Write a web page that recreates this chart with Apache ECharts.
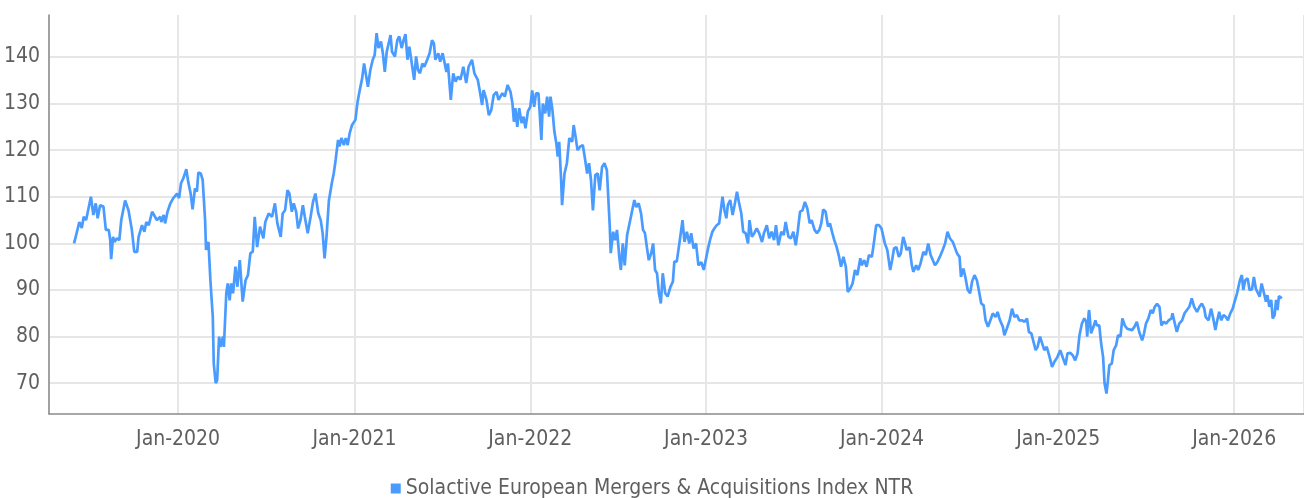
<!DOCTYPE html>
<html lang="en">
  <head>
    <meta charset="UTF-8" />
    <title>Solactive European Mergers &amp; Acquisitions Index NTR</title>
    <script src="https://cdn.jsdelivr.net/npm/echarts@6/dist/echarts.min.js"></script>
    <style>
      html, body { margin: 0; padding: 0; background: #fff; }
      #main { width: 1304px; height: 498px; }
    </style>
  </head>
  <body>
    <div id="main"></div>

    <script>
      const seriesName = 'Solactive European Mergers & Acquisitions Index NTR';

      // x range of the plot and the y ticks
      const xRange = ['2019-04-08', '2026-05-26'];
      const yRange = [63.4, 149];

      const dates = [
        // 2019
        '2019-05-30', '2019-06-05', '2019-06-10', '2019-06-15', '2019-06-19', '2019-06-24', '2019-06-29',
        '2019-07-04', '2019-07-09', '2019-07-14', '2019-07-18', '2019-07-23', '2019-07-30', '2019-08-04',
        '2019-08-10', '2019-08-13', '2019-08-15', '2019-08-19', '2019-08-22', '2019-08-27', '2019-09-01',
        '2019-09-05', '2019-09-13', '2019-09-20', '2019-09-27', '2019-10-02', '2019-10-08', '2019-10-11',
        '2019-10-18', '2019-10-23', '2019-10-27', '2019-11-01', '2019-11-08', '2019-11-12', '2019-11-18',
        '2019-11-25', '2019-11-27', '2019-12-02', '2019-12-05', '2019-12-10', '2019-12-16', '2019-12-22',
        '2019-12-30',
        // 2020
        '2020-01-03', '2020-01-07', '2020-01-12', '2020-01-18', '2020-01-22', '2020-01-27', '2020-01-31',
        '2020-02-05', '2020-02-09', '2020-02-12', '2020-02-17', '2020-02-21', '2020-02-26', '2020-02-28',
        '2020-03-04', '2020-03-08', '2020-03-13', '2020-03-15', '2020-03-19', '2020-03-22', '2020-03-26',
        '2020-03-29', '2020-04-03', '2020-04-05', '2020-04-10', '2020-04-13', '2020-04-17', '2020-04-20',
        '2020-04-24', '2020-04-29', '2020-05-03', '2020-05-08', '2020-05-14', '2020-05-20', '2020-05-25',
        '2020-05-30', '2020-06-04', '2020-06-08', '2020-06-13', '2020-06-19', '2020-06-26', '2020-06-30',
        '2020-07-07', '2020-07-14', '2020-07-20', '2020-07-25', '2020-08-01', '2020-08-05', '2020-08-10',
        '2020-08-15', '2020-08-19', '2020-08-24', '2020-08-28', '2020-09-02', '2020-09-06', '2020-09-11',
        '2020-09-16', '2020-09-20', '2020-09-26', '2020-10-02', '2020-10-07', '2020-10-12', '2020-10-18',
        '2020-10-23', '2020-10-27', '2020-10-31', '2020-11-04', '2020-11-09', '2020-11-15', '2020-11-19',
        '2020-11-23', '2020-11-28', '2020-12-01', '2020-12-05', '2020-12-10', '2020-12-14', '2020-12-18',
        '2020-12-22', '2020-12-25', '2020-12-27',
        // 2021
        '2021-01-03', '2021-01-07', '2021-01-10', '2021-01-14', '2021-01-17', '2021-01-21', '2021-01-25',
        '2021-01-29', '2021-02-03', '2021-02-08', '2021-02-12', '2021-02-16', '2021-02-20', '2021-02-25',
        '2021-03-01', '2021-03-05', '2021-03-09', '2021-03-13', '2021-03-17', '2021-03-20', '2021-03-26',
        '2021-03-31', '2021-04-04', '2021-04-09', '2021-04-13', '2021-04-17', '2021-04-21', '2021-04-25',
        '2021-05-01', '2021-05-05', '2021-05-09', '2021-05-13', '2021-05-17', '2021-05-22', '2021-05-26',
        '2021-06-01', '2021-06-06', '2021-06-11', '2021-06-15', '2021-06-18', '2021-06-24', '2021-06-28',
        '2021-07-03', '2021-07-07', '2021-07-11', '2021-07-14', '2021-07-20', '2021-07-25', '2021-07-30',
        '2021-08-04', '2021-08-09', '2021-08-15', '2021-08-21', '2021-08-26', '2021-09-02', '2021-09-07',
        '2021-09-14', '2021-09-19', '2021-09-23', '2021-09-26', '2021-10-02', '2021-10-07', '2021-10-12',
        '2021-10-17', '2021-10-23', '2021-10-27', '2021-11-04', '2021-11-09', '2021-11-15', '2021-11-21',
        '2021-11-25', '2021-11-28', '2021-12-01', '2021-12-05', '2021-12-09', '2021-12-14', '2021-12-18',
        '2021-12-22', '2021-12-27',
        // 2022
        '2022-01-01', '2022-01-05', '2022-01-09', '2022-01-13', '2022-01-18', '2022-01-24', '2022-01-27',
        '2022-02-01', '2022-02-05', '2022-02-09', '2022-02-12', '2022-02-16', '2022-02-20', '2022-02-24',
        '2022-02-27', '2022-03-02', '2022-03-06', '2022-03-08', '2022-03-13', '2022-03-18', '2022-03-23',
        '2022-03-29', '2022-04-01', '2022-04-05', '2022-04-09', '2022-04-15', '2022-04-20', '2022-04-25',
        '2022-04-29', '2022-05-03', '2022-05-07', '2022-05-11', '2022-05-16', '2022-05-21', '2022-05-25',
        '2022-05-30', '2022-06-04', '2022-06-09', '2022-06-15', '2022-06-17', '2022-06-22', '2022-06-26',
        '2022-06-30', '2022-07-05', '2022-07-08', '2022-07-12', '2022-07-16', '2022-07-21', '2022-07-25',
        '2022-07-31', '2022-08-05', '2022-08-09', '2022-08-14', '2022-08-19', '2022-08-23', '2022-08-27',
        '2022-08-31', '2022-09-04', '2022-09-09', '2022-09-13', '2022-09-17', '2022-09-21', '2022-09-25',
        '2022-09-29', '2022-10-03', '2022-10-08', '2022-10-13', '2022-10-19', '2022-10-24', '2022-10-27',
        '2022-11-01', '2022-11-07', '2022-11-13', '2022-11-17', '2022-11-22', '2022-11-27', '2022-12-01',
        '2022-12-06', '2022-12-11', '2022-12-16', '2022-12-22', '2022-12-27', '2022-12-31',
        // 2023
        '2023-01-05', '2023-01-09', '2023-01-14', '2023-01-18', '2023-01-23', '2023-01-28', '2023-02-01',
        '2023-02-04', '2023-02-08', '2023-02-12', '2023-02-15', '2023-02-20', '2023-02-25', '2023-03-01',
        '2023-03-06', '2023-03-10', '2023-03-15', '2023-03-19', '2023-03-24', '2023-03-29', '2023-04-01',
        '2023-04-06', '2023-04-11', '2023-04-16', '2023-04-21', '2023-04-27', '2023-05-01', '2023-05-07',
        '2023-05-12', '2023-05-17', '2023-05-22', '2023-05-26', '2023-05-31', '2023-06-06', '2023-06-11',
        '2023-06-15', '2023-06-21', '2023-06-26', '2023-07-01', '2023-07-06', '2023-07-10', '2023-07-15',
        '2023-07-20', '2023-07-25', '2023-07-30', '2023-08-04', '2023-08-08', '2023-08-14', '2023-08-19',
        '2023-08-24', '2023-08-28', '2023-09-01', '2023-09-06', '2023-09-11', '2023-09-15', '2023-09-20',
        '2023-09-24', '2023-09-29', '2023-10-04', '2023-10-08', '2023-10-13', '2023-10-18', '2023-10-22',
        '2023-10-27', '2023-11-01', '2023-11-06', '2023-11-11', '2023-11-17', '2023-11-20', '2023-11-25',
        '2023-11-30', '2023-12-05', '2023-12-11', '2023-12-16', '2023-12-20', '2023-12-26', '2023-12-31',
        // 2024
        '2024-01-02', '2024-01-07', '2024-01-12', '2024-01-18', '2024-01-22', '2024-01-26', '2024-01-31',
        '2024-02-05', '2024-02-09', '2024-02-14', '2024-02-18', '2024-02-21', '2024-02-27', '2024-03-03',
        '2024-03-06', '2024-03-12', '2024-03-16', '2024-03-21', '2024-03-27', '2024-04-01', '2024-04-06',
        '2024-04-11', '2024-04-15', '2024-04-20', '2024-04-25', '2024-04-30', '2024-05-06', '2024-05-11',
        '2024-05-16', '2024-05-21', '2024-05-27', '2024-05-31', '2024-06-05', '2024-06-10', '2024-06-13',
        '2024-06-18', '2024-06-22', '2024-06-27', '2024-07-02', '2024-07-06', '2024-07-11', '2024-07-16',
        '2024-07-20', '2024-07-25', '2024-07-30', '2024-08-03', '2024-08-08', '2024-08-13', '2024-08-18',
        '2024-08-24', '2024-08-28', '2024-09-02', '2024-09-08', '2024-09-11', '2024-09-16', '2024-09-22',
        '2024-09-27', '2024-10-02', '2024-10-07', '2024-10-12', '2024-10-18', '2024-10-23', '2024-10-28',
        '2024-11-01', '2024-11-06', '2024-11-10', '2024-11-15', '2024-11-19', '2024-11-24', '2024-11-28',
        '2024-12-03', '2024-12-08', '2024-12-14', '2024-12-19', '2024-12-24', '2024-12-30',
        // 2025
        '2025-01-05', '2025-01-11', '2025-01-16', '2025-01-20', '2025-01-26', '2025-01-31', '2025-02-05',
        '2025-02-10', '2025-02-14', '2025-02-19', '2025-02-24', '2025-02-28', '2025-03-02', '2025-03-05',
        '2025-03-06', '2025-03-10', '2025-03-15', '2025-03-19', '2025-03-22', '2025-03-27', '2025-03-31',
        '2025-04-04', '2025-04-07', '2025-04-11', '2025-04-14', '2025-04-17', '2025-04-22', '2025-04-26',
        '2025-05-01', '2025-05-05', '2025-05-10', '2025-05-14', '2025-05-19', '2025-05-24', '2025-05-28',
        '2025-06-03', '2025-06-08', '2025-06-13', '2025-06-18', '2025-06-24', '2025-06-28', '2025-07-02',
        '2025-07-07', '2025-07-12', '2025-07-16', '2025-07-20', '2025-07-25', '2025-07-30', '2025-08-03',
        '2025-08-08', '2025-08-13', '2025-08-18', '2025-08-24', '2025-08-26', '2025-08-30', '2025-09-04',
        '2025-09-09', '2025-09-15', '2025-09-20', '2025-09-25', '2025-09-30', '2025-10-05', '2025-10-10',
        '2025-10-16', '2025-10-21', '2025-10-26', '2025-10-31', '2025-11-03', '2025-11-09', '2025-11-14',
        '2025-11-18', '2025-11-23', '2025-11-27', '2025-12-01', '2025-12-05', '2025-12-10', '2025-12-15',
        '2025-12-19', '2025-12-24', '2025-12-29',
        // 2026
        '2026-01-02', '2026-01-07', '2026-01-10', '2026-01-13', '2026-01-17', '2026-01-20', '2026-01-24',
        '2026-01-29', '2026-02-02', '2026-02-07', '2026-02-11', '2026-02-15', '2026-02-19', '2026-02-23',
        '2026-02-27', '2026-03-04', '2026-03-08', '2026-03-11', '2026-03-15', '2026-03-19', '2026-03-22',
        '2026-03-26', '2026-03-29', '2026-04-01', '2026-04-04', '2026-04-10'
      ];

      const values = [
        // 2019
        100, 102.5, 104.6, 103.3, 105.7, 105, 107.5,
        110, 106.1, 108.6, 105.4, 108.2, 107.9, 102.9,
        102.9, 100.8, 96.6, 101.4, 100.3, 101.1, 100.7,
        105, 109.2, 107.1, 102.9, 98.2, 98.2, 101.4,
        103.9, 102.5, 104.6, 103.9, 106.8, 106.1, 105,
        105.7, 104.6, 106.1, 104.3, 106.8, 108.6, 109.7,
        110.7,
        // 2020
        109.7, 112.9, 114, 115.9, 113.2, 110.7, 107.3,
        111.8, 111.1, 115.2, 115, 113.6, 105, 98.6,
        100.3, 92.1, 84.2, 74.2, 70, 70.6, 80,
        77.8, 80, 77.8, 89.3, 91.4, 87.8, 91.4,
        89.3, 95, 90.7, 96.4, 87.5, 92.1, 93.2,
        97.9, 98.2, 105.7, 99.2, 103.6, 101.1, 104.6,
        106.4, 105.7, 108.6, 104.3, 101.4, 106.4, 107.1,
        111.4, 110.7, 106.8, 108.6, 106.8, 103.2, 105,
        108.2, 105.7, 102.2, 105.7, 108.9, 110.7, 106.4,
        105, 102.2, 96.8, 101.4, 109.2, 112.9, 115,
        117.9, 122.2, 120.8, 122.6, 121.1, 122.6, 121.1,
        123.6, 124.7, 125.4,
        // 2021
        126.5, 130, 131.8, 133.9, 135.4, 138.6, 136.1,
        133.6, 137.2, 139.4, 140.4, 145.1, 141.9, 143.3,
        140.8, 136.8, 141.1, 142.9, 144.7, 141.1, 140.1,
        143.6, 144.4, 141.9, 143.6, 144.9, 139.4, 142.2,
        137.9, 135.1, 140.1, 137.2, 136.5, 138.6, 137.9,
        139.4, 140.8, 143.6, 142.9, 139.4, 140.8, 139,
        140.8, 141.1, 136.8, 138.6, 130.8, 136.5, 134.7,
        135.8, 135.1, 137.9, 134.4, 137.9, 139.4, 136.5,
        135.1, 132.2, 129.7, 132.9, 130.8, 127.5, 128.6,
        131.8, 132.5, 130.8, 132.2, 131.5, 134, 132.5,
        130, 126.1, 129, 125, 129, 125.8, 127.2,
        124.7, 128.3,
        // 2022
        129.3, 132.8, 129.3, 132.2, 132.2, 122.2, 130,
        127.9, 131.5, 127.2, 131.5, 128.6, 124, 121.5,
        118.6, 121.8, 113.6, 108.2, 115, 117.2, 122.6,
        121.8, 125.4, 122.9, 120, 120.8, 121.1, 117.9,
        115, 117.2, 113.6, 107.1, 114.7, 115, 111.4,
        116.4, 117.2, 115.7, 103.6, 97.9, 102.5, 100.7,
        102.9, 96.8, 94.3, 100, 95.3, 101.8, 102.2,
        106.8, 109.3, 107.8, 108.6, 106.4, 102.9, 102.2,
        99.2, 96.4, 97.9, 100, 94.3, 93.6, 89.3,
        87.1, 93.6, 89.3, 88.6, 90.7, 91.8, 96.1,
        96.1, 100.4, 105, 100.3, 102.5, 100, 102.2,
        98.9, 100, 95.3, 96, 94.3, 93.9,
        // 2023
        98.9, 100.7, 102.5, 103.2, 103.9, 104.3, 104.6,
        110, 107.1, 105.4, 108.2, 109.3, 106.1, 108.2,
        111.1, 108.9, 106.4, 102.5, 102.2, 100, 105,
        101.4, 102.2, 103.2, 102.2, 100.3, 102.2, 103.9,
        101.1, 102.5, 100.7, 103.9, 99.6, 102.5, 101.8,
        104.6, 101.4, 101.1, 102.5, 99.6, 102.5, 106.8,
        107.1, 108.9, 107.5, 104.3, 105, 102.9, 102.2,
        102.9, 104.3, 107.3, 106.8, 103.6, 104.3, 102.2,
        100.7, 99.2, 97.1, 95, 97.1, 95, 89.6,
        90.3, 91.4, 94.3, 93.2, 96.8, 95.3, 96.4,
        95, 97.5, 97.1, 100.7, 103.9, 103.9, 103.2,
        // 2024
        102.9, 100, 98.6, 94.3, 96.4, 98.9, 99.2,
        97.1, 97.8, 101.4, 100, 98.6, 99.2, 95.3,
        93.9, 95.3, 94.3, 95.7, 98.2, 97.5, 100,
        97.5, 97.1, 95.3, 96, 97.1, 98.6, 100,
        102.5, 101.1, 100.3, 99.2, 97.8, 97.1, 92.8,
        94.6, 92.8, 90, 89.3, 91.8, 93.2, 92.1,
        90, 87.1, 86.7, 83.5, 82.1, 83.5, 85,
        84.2, 85.3, 83.5, 82.1, 80.3, 81.7, 83.5,
        86, 84.2, 84.6, 83.5, 83.5, 83.2, 83.9,
        81, 80.7, 81, 77.1, 77.8, 80, 80.3,
        77.1, 77.8, 75.6, 73.5, 74.6, 75.6,
        // 2025
        77.1, 75.3, 73.9, 76.4, 76.5, 76, 74.9,
        76.4, 80.3, 82.8, 83.9, 83.2, 80, 85,
        85.7, 80.7, 82.1, 83.5, 82.4, 82.4, 78.5,
        75.6, 70, 67.8, 70.6, 73.9, 74.2, 77.1,
        78.1, 80.3, 80, 83.9, 82.4, 81.7, 82.1,
        81.4, 82.1, 83.2, 81, 79.2, 80.7, 82.8,
        83.9, 85.7, 85, 86.4, 87, 86.4, 82.4,
        83.2, 82.8, 83.5, 83.9, 85, 83.2, 81,
        82.8, 83.5, 85, 85.7, 86.4, 88.2, 86.4,
        85.3, 86.4, 87.1, 86, 84.2, 83.5, 86,
        84.2, 81.4, 83.5, 85.3, 83.5, 84.6, 84.2,
        83.5, 85, 86,
        // 2026
        87.5, 89.3, 90.7, 92.1, 93.2, 90, 92.1,
        92.5, 90, 90.1, 92.8, 90.3, 90, 88.6,
        91.4, 89.3, 87.5, 88.9, 86.4, 87.9, 83.9,
        84.6, 87.9, 85.7, 88.7, 88.2
      ];

      const labelFont = '"DejaVu Sans Condensed", "Liberation Sans Narrow", Roboto, sans-serif';
      const lineColor = '#4a9bff';
      const gridColor = '#e6e6e6';
      const axisColor = '#8a8a8a';
      const textColor = '#5f5f5f';
      const ONE_DAY = 24 * 3600 * 1000;

      const chart = echarts.init(document.getElementById('main'), null, { renderer: 'canvas' });

      const option = {
        animation: false,
        backgroundColor: '#ffffff',
        grid: { left: 49, right: 0, top: 15, bottom: 84, containLabel: false },
        legend: {
          data: [seriesName],
          left: 'center',
          top: 473,
          icon: 'rect',
          itemWidth: 10,
          itemHeight: 10,
          itemGap: 5,
          textStyle: { color: textColor, fontSize: 21, fontFamily: labelFont }
        },
        xAxis: {
          type: 'time',
          min: xRange[0],
          max: xRange[1],
          minInterval: 365 * ONE_DAY,
          maxInterval: 366 * ONE_DAY,
          axisLine: { show: true, lineStyle: { color: axisColor, width: 1.5 } },
          axisTick: { show: false },
          splitLine: { show: true, lineStyle: { color: gridColor, width: 2 } },
          axisLabel: {
            color: textColor,
            fontSize: 21,
            fontFamily: labelFont,
            margin: 15,
            formatter: (v) => echarts.time.format(v, '{MMM}-{yyyy}', false)
          }
        },
        yAxis: {
          type: 'value',
          min: yRange[0],
          max: yRange[1],
          splitNumber: 8,
          axisLine: { show: true, lineStyle: { color: axisColor, width: 1.5 } },
          axisTick: { show: false },
          splitLine: { show: true, showMinLine: false, showMaxLine: false, lineStyle: { color: gridColor, width: 2 } },
          axisLabel: {
            color: textColor,
            fontSize: 21,
            fontFamily: labelFont,
            margin: 9,
            showMinLabel: false,
            showMaxLabel: false
          }
        },
        series: [
          {
            name: seriesName,
            type: 'line',
            data: dates.map((d, i) => [d, values[i]]),
            showSymbol: false,
            color: lineColor,
            lineStyle: { color: lineColor, width: 2.7 }
          }
        ]
      };

      chart.setOption(option);
    </script>
  </body>
</html>
